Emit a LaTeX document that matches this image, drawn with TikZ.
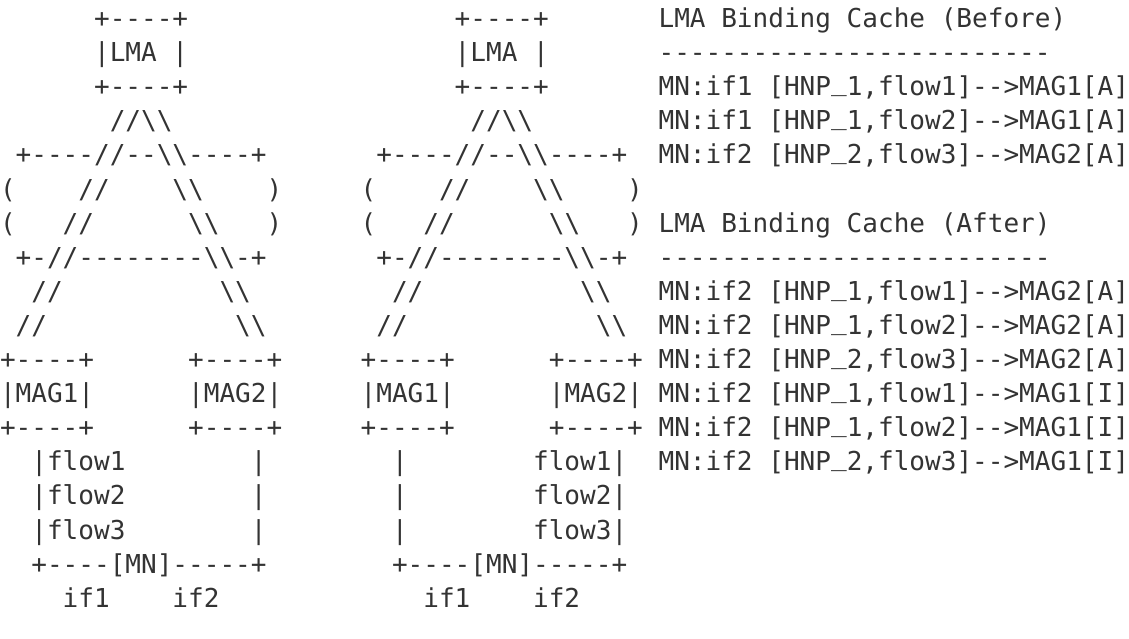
\documentclass[tikz,border=0pt]{standalone}
\usepackage{fontspec}
\setmonofont{DejaVu Sans Mono}
\usepackage{tikz}

\definecolor{ink}{HTML}{333333}
\newcommand{\dbs}{\textbackslash\textbackslash}
\newcommand{\us}{\raisebox{0.2em}{\symbol{95}}}

\begin{document}
\begin{tikzpicture}[x=6pt,y=13.05pt,
  chr/.style={anchor=base west,inner sep=0pt,outer sep=0pt,text=ink,
    font=\ttfamily\fontsize{9.966pt}{13pt}\selectfont\frenchspacing}]
  \useasboundingbox (0,0.806) rectangle (72,-17.93);
  \def\glyphs#1#2#3{\node[chr] (\pfx-#2-#1) at (#1,1-#2) {#3};}
  % the two networks, before (left) and after (right)
  \foreach \s/\pfx in {0/L,23/R} {
    \begin{scope}[xshift=\s*6pt]
      % LMA
      \glyphs{6}{1}{+----+}
      \glyphs{6}{2}{|LMA |}
      \glyphs{6}{3}{+----+}
      \glyphs{7}{4}{//\dbs}
      % core cloud
      \glyphs{1}{5}{+----//--\dbs----+}
      \glyphs{0}{6}{(} \glyphs{5}{6}{//} \glyphs{11}{6}{\dbs} \glyphs{17}{6}{)}
      \glyphs{0}{7}{(} \glyphs{4}{7}{//} \glyphs{12}{7}{\dbs} \glyphs{17}{7}{)}
      \glyphs{1}{8}{+-//--------\dbs-+}
      \glyphs{2}{9}{//} \glyphs{14}{9}{\dbs}
      \glyphs{1}{10}{//} \glyphs{15}{10}{\dbs}
      % MAGs
      \foreach \c/\m in {0/MAG1,12/MAG2} {
        \glyphs{\c}{11}{+----+}
        \glyphs{\c}{12}{|\m|}
        \glyphs{\c}{13}{+----+}
      }
      % MN
      \glyphs{2}{17}{+----[MN]-----+}
      \glyphs{4}{18}{if1} \glyphs{11}{18}{if2}
    \end{scope}
  }
  % flows: on if1 before, on if2 after
  \def\pfx{F}
  \foreach \r/\f in {14/flow1,15/flow2,16/flow3} {
    \glyphs{2}{\r}{|\f} \glyphs{16}{\r}{|}
    \glyphs{25}{\r}{|} \glyphs{34}{\r}{\f|}
  }
  % binding cache tables
  \def\pfx{T}
  \glyphs{42}{1}{LMA Binding Cache (Before)}
  \glyphs{42}{2}{-------------------------}
  \foreach \r/\t in {3/{MN:if1 [HNP\us1,flow1]-->MAG1[A]},
                     4/{MN:if1 [HNP\us1,flow2]-->MAG1[A]},
                     5/{MN:if2 [HNP\us2,flow3]-->MAG2[A]}} {
    \glyphs{42}{\r}{\t}
  }
  \glyphs{42}{7}{LMA Binding Cache (After)}
  \glyphs{42}{8}{-------------------------}
  \foreach \r/\t in {9/{MN:if2 [HNP\us1,flow1]-->MAG2[A]},
                     10/{MN:if2 [HNP\us1,flow2]-->MAG2[A]},
                     11/{MN:if2 [HNP\us2,flow3]-->MAG2[A]},
                     12/{MN:if2 [HNP\us1,flow1]-->MAG1[I]},
                     13/{MN:if2 [HNP\us1,flow2]-->MAG1[I]},
                     14/{MN:if2 [HNP\us2,flow3]-->MAG1[I]}} {
    \glyphs{42}{\r}{\t}
  }
\end{tikzpicture}
\end{document}
